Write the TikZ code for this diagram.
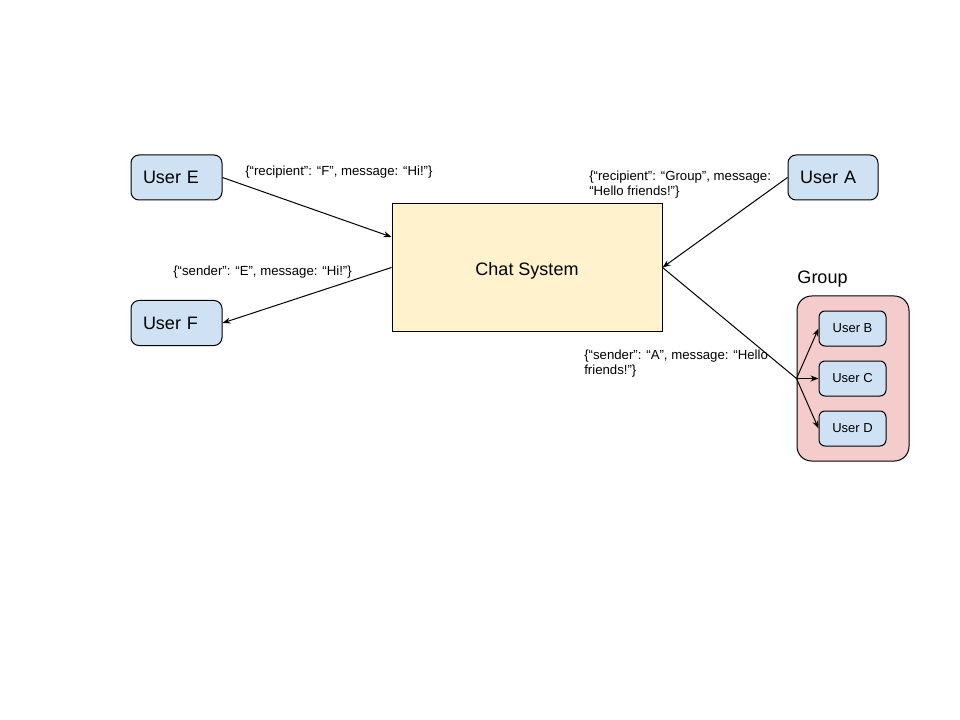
\documentclass[tikz,border=0pt]{standalone}
\usepackage{fontspec}
\setmainfont{Liberation Sans}
\usetikzlibrary{arrows.meta}
\definecolor{ublue}{HTML}{CFE2F3}
\definecolor{cyellow}{HTML}{FFF2CC}
\definecolor{gred}{HTML}{F4CCCC}
\begin{document}
\begin{tikzpicture}[x=0.75pt,y=-0.75pt,
  userbox/.style={draw=black, line width=0.75pt, fill=ublue, rounded corners=6pt, font=\fontsize{13.5}{16}\selectfont, minimum width=68.25pt, minimum height=33.75pt, inner ysep=0pt, inner xsep=9pt, text width=50.25pt, align=left},
  smalluser/.style={draw=black, line width=0.75pt, fill=ublue, rounded corners=4.5pt, font=\fontsize{9.75}{12}\selectfont, minimum width=50.25pt, minimum height=26.25pt, inner sep=0pt},
  msg/.style={font=\fontsize{9.9}{11.25}\selectfont, inner sep=0pt, align=left},
  conn/.style={line width=0.75pt, -{Stealth[length=6pt,width=4.5pt]}},
  plain/.style={line width=0.75pt}
]
\useasboundingbox (0,0) rectangle (960,720);
\fill[white] (0,0) rectangle (960,720);

\node[userbox] (e) at (176.5,177.5) {User E};
\node[userbox] (f) at (176.5,323) {User F};
\node[userbox, minimum width=67.5pt, text width=49.5pt] (a) at (833,177.5) {User A};
\node[draw=black, line width=0.75pt, fill=cyellow, minimum width=202.5pt, minimum height=95.25pt, inner sep=0pt, text height=11.4pt, text depth=0pt, font=\fontsize{13.5}{16}\selectfont] (chat) at (527,267.5) {Chat System};

\node[draw=black, line width=0.75pt, fill=gred, rounded corners=11pt, minimum width=84pt, minimum height=123.75pt, inner sep=0pt] (group) at (853,378.5) {};
\node[font=\fontsize{13.5}{16}\selectfont, inner sep=0pt] (glabel) at (822.5,279) {Group};
\node[smalluser] (b) at (852.5,328.5) {User B};
\node[smalluser] (c) at (852.5,378.5) {User C};
\node[smalluser] (d) at (852.5,428.5) {User D};

\coordinate (j) at (group.west);

\draw[conn] (e.east) -- ([yshift=22.9pt]chat.west);
\draw[conn] (chat.west) -- (f.east);
\draw[conn] (a.west) -- (chat.east);
\draw[plain] (chat.east) -- (j);
\draw[conn] (j) -- (b.west);
\draw[conn] (j) -- (c.west);
\draw[conn] (j) -- (d.west);

\node[msg, anchor=west] (m1) at (245,172) {\{“recipient”: “F”, message: “Hi!”\}};
\node[msg, anchor=west] (m2) at (173,272) {\{“sender”: “E”, message: “Hi!”\}};
\node[msg, anchor=west] (m3) at (589,184.5) {\{“recipient”: “Group”, message:\\“Hello friends!”\}};
\node[msg, anchor=west] (m4) at (584,364) {\{“sender”: “A”, message: “Hello\\friends!”\}};
\end{tikzpicture}
\end{document}
